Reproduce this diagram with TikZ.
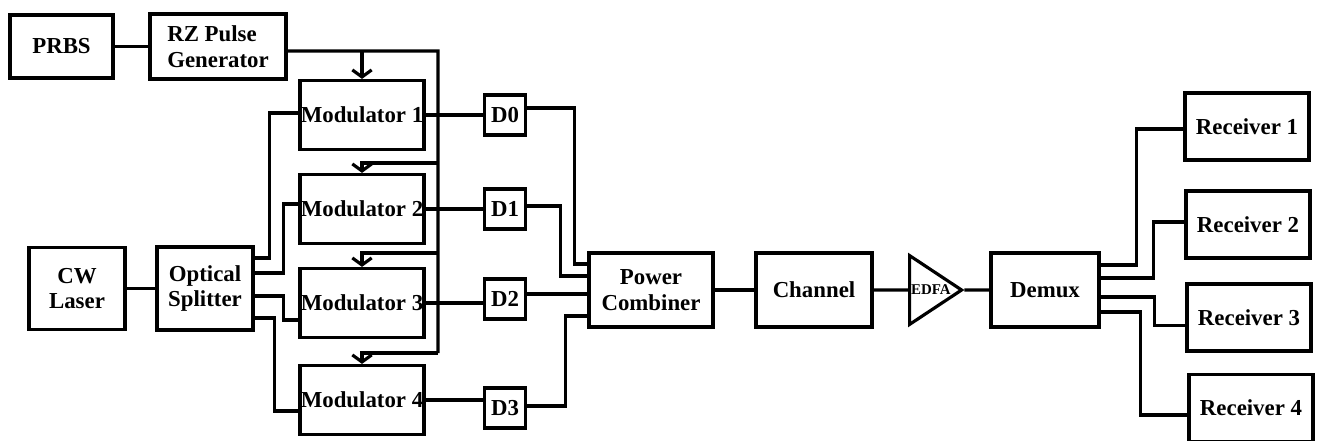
\documentclass[tikz,border=0pt]{standalone}
\usepackage{fontspec}
\setmainfont{Liberation Serif}
\usetikzlibrary{arrows.meta,shapes.geometric}
\tikzset{
  blk/.style={draw, line width=1.8pt, font=\bfseries\fontsize{13}{14.5}\selectfont, align=center, inner sep=0pt},
  modbox/.style={blk, minimum width=24.8mm, minimum height=13.8mm},
  dbox/.style={blk, minimum width=8.2mm, minimum height=8mm},
  rxbox/.style={blk, minimum width=24.8mm, minimum height=13.4mm},
  amp/.style={draw, line width=1.8pt, isosceles triangle, isosceles triangle apex angle=67,
              minimum size=10.4mm, inner sep=0.5pt, font=\bfseries\fontsize{8.5}{9}\selectfont},
  wire/.style={line width=1.8pt},
  clk/.style={wire, -{Straight Barb[length=4pt,width=11pt]}},
}
\def\xMod{362}
\def\xD{505}
\def\xBus{438}
\def\yLink{290}
\begin{document}
\begin{tikzpicture}[x=0.2mm,y=-0.2mm]
  \useasboundingbox (0,0) rectangle (1317,441);
  % transmitter side
  \node[blk, minimum width=20.6mm, minimum height=12.6mm] (prbs) at (61.5,46.5) {PRBS};
  \node[blk, align=left, minimum width=27.2mm, minimum height=13mm] (rz) at (218,46.5) {RZ Pulse\\Generator};
  \node[blk, minimum width=19.2mm, minimum height=16.4mm] (cw) at (77,288.5) {CW\\Laser};
  \node[blk, minimum width=19.2mm, minimum height=16.6mm] (spl) at (205,288.5) {Optical\\Splitter};
  \node[modbox] (m1) at (\xMod,115) {Modulator 1};
  \node[modbox] (m2) at (\xMod,209) {Modulator 2};
  \node[modbox] (m3) at (\xMod,303) {Modulator 3};
  \node[modbox] (m4) at (\xMod,400) {Modulator 4};
  \node[dbox] (d0) at (\xD,115) {D0};
  \node[dbox] (d1) at (\xD,209) {D1};
  \node[dbox] (d2) at (\xD,299) {D2};
  \node[dbox] (d3) at (\xD,408) {D3};
  % link and receiver side
  \node[blk, minimum width=24.8mm, minimum height=14.8mm] (pc) at (651,\yLink) {Power\\Combiner};
  \node[blk, minimum width=23.2mm, minimum height=14.8mm] (ch) at (814,\yLink) {Channel};
  \node[amp, anchor=west] (edfa) at (908,\yLink) {EDFA};
  \node[blk, minimum width=21.6mm, minimum height=14.8mm] (dmx) at (1045,\yLink) {Demux};
  \node[rxbox] (r1) at (1247,126.5) {Receiver 1};
  \node[rxbox] (r2) at (1248,224.5) {Receiver 2};
  \node[rxbox] (r3) at (1249,317.5) {Receiver 3};
  \node[rxbox] (r4) at (1251,408) {Receiver 4};
  % clock bus
  \coordinate (tap1) at (\xBus,51);
  \coordinate (tap2) at (\xBus,163);
  \coordinate (tap3) at (\xBus,253);
  \coordinate (tap4) at (\xBus,353);
  \draw[wire] (prbs) -- (rz);
  \draw[wire] ([yshift=-0.9mm]rz.east) -- (tap1) -- (tap4);
  \draw[clk] (m1.north |- tap1) -- (m1.north);
  \draw[clk] (tap2) -| (m2.north);
  \draw[clk] (tap3) -| (m3.north);
  \draw[clk] (tap4) -| (m4.north);
  % optical feed
  \draw[wire] (cw) -- (spl);
  \draw[wire] ([yshift=6.1mm]spl.east) -- ++(15,0) |- ([yshift=0.4mm]m1.west);
  \draw[wire] ([yshift=3.1mm]spl.east) -- ++(29,0) |- ([yshift=1mm]m2.west);
  \draw[wire] ([yshift=-1.5mm]spl.east) -- ++(29,0) |- ([yshift=-3.4mm]m3.west);
  \draw[wire] ([yshift=-5.9mm]spl.east) -- ++(20,0) |- ([yshift=-2.2mm]m4.west);
  \draw[wire] (m1.east) -- (m1.east -| d0.west);
  \draw[wire] (m2.east) -- (m2.east -| d1.west);
  \draw[wire] (m3.east) -- (m3.east -| d2.west);
  \draw[wire] (m4.east) -- (m4.east -| d3.west);
  % combiner inputs
  \draw[wire] ([yshift=1.4mm]d0.east) -- ++(47,0) |- ([yshift=5.2mm]pc.west);
  \draw[wire] ([yshift=0.6mm]d1.east) -- ++(33,0) |- ([yshift=2.8mm]pc.west);
  \draw[wire] ([yshift=1mm]d2.east) -- ([yshift=1mm]d2.east -| pc.west);
  \draw[wire] ([yshift=0.4mm]d3.east) -- ++(38,0) |- ([yshift=-5.2mm]pc.west);
  \draw[wire] (pc) -- (ch);
  \draw[wire] (ch) -- (edfa);
  \draw[wire] (edfa.apex) -- (dmx);
  % demux outputs
  \draw[wire] ([yshift=5mm]dmx.east) -- ++(36,0) |- ([yshift=-0.5mm]r1.west);
  \draw[wire] ([yshift=2.4mm]dmx.east) -- ++(53,0) |- ([yshift=0.5mm]r2.west);
  \draw[wire] ([yshift=-1.4mm]dmx.east) -- ++(54,0) |- ([yshift=-1.6mm]r3.west);
  \draw[wire] ([yshift=-4.4mm]dmx.east) -- ++(40,0) |- ([yshift=-1.4mm]r4.west);
\end{tikzpicture}
\end{document}
